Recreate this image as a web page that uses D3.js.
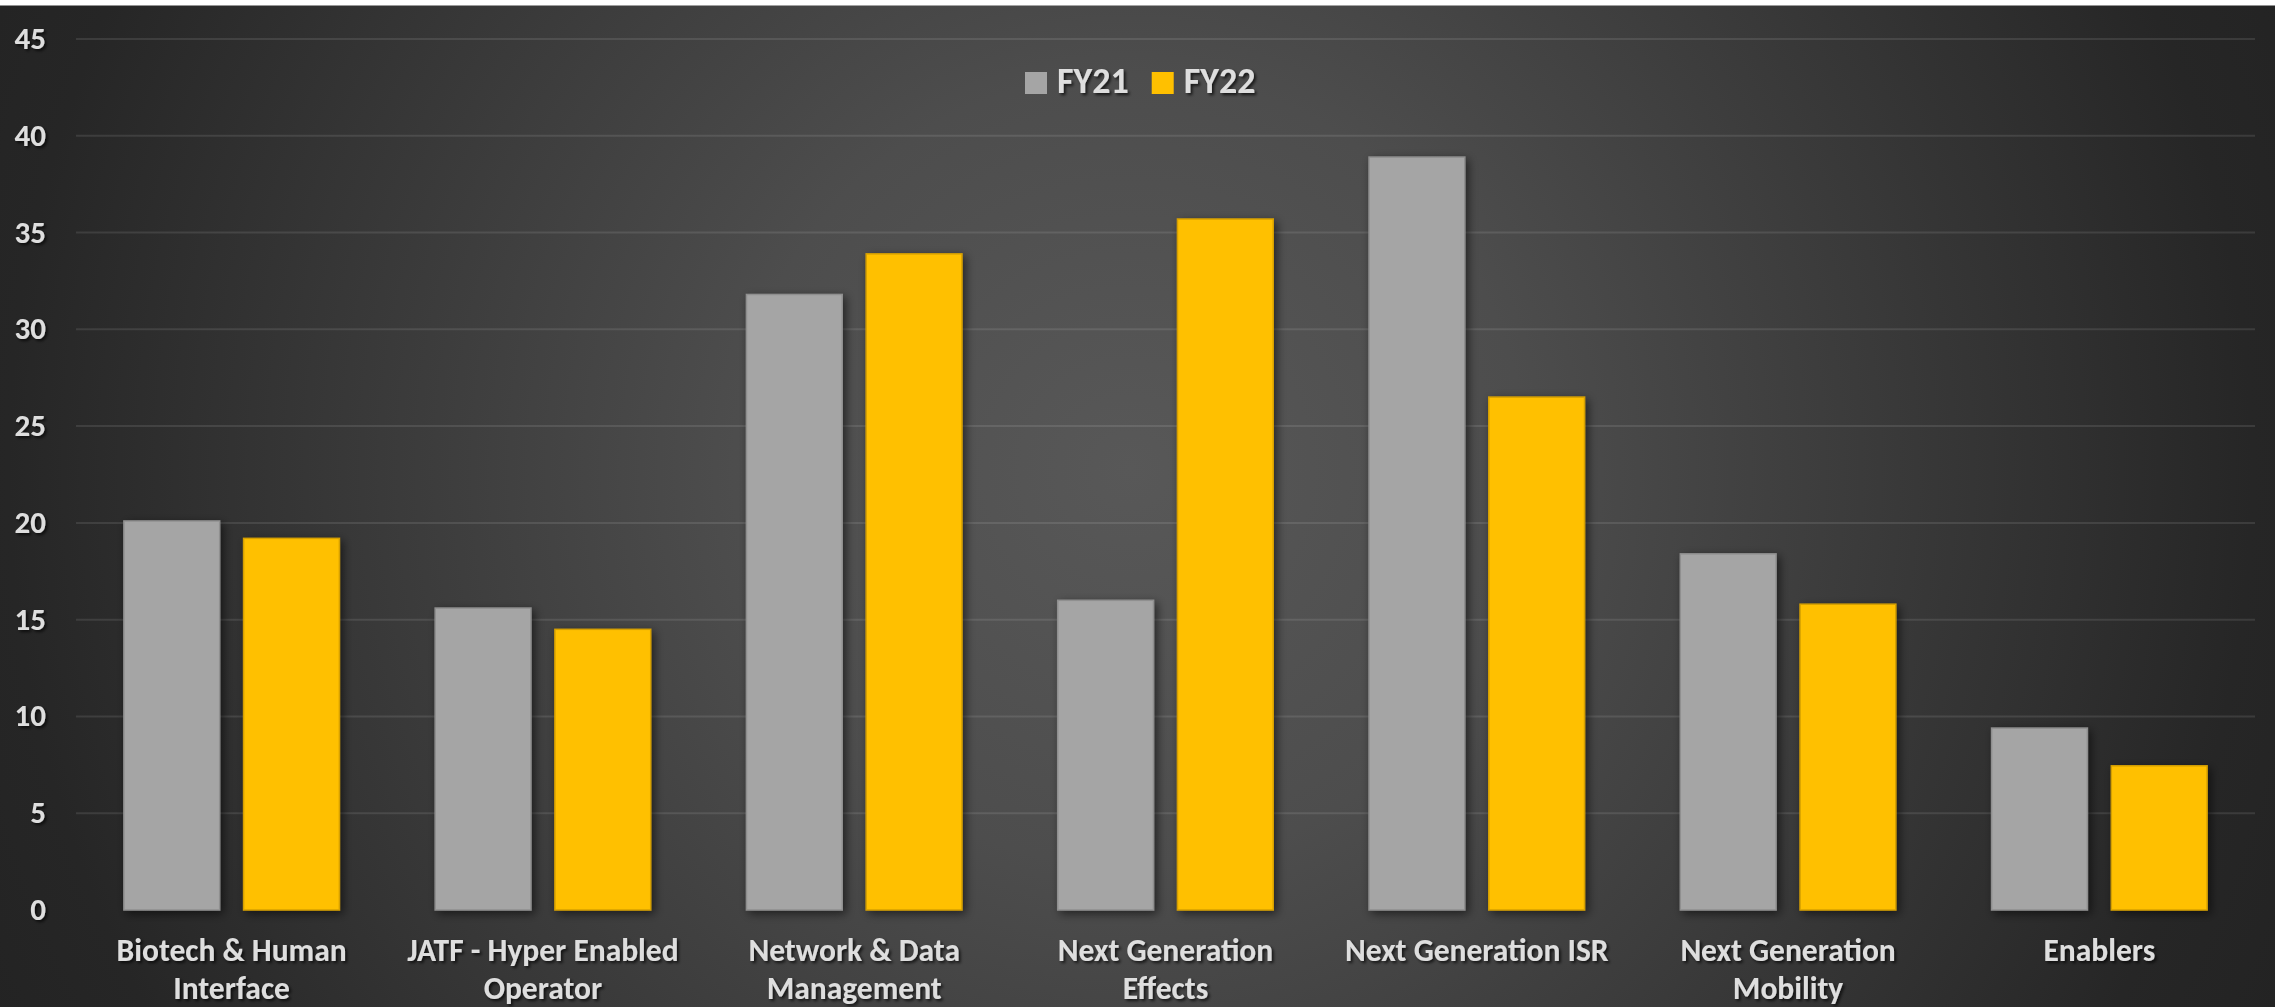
<!DOCTYPE html>
<html lang="en">
<head>
  <meta charset="UTF-8" />
  <title>FY21 vs FY22 by portfolio</title>
  <script src="https://d3js.org/d3.v7.min.js"></script>
  <style>
    body {
      margin: 0;
      background: #fff;
    }
    #chart {
      display: block;
      font-family: Carlito, "Liberation Sans Narrow", "DejaVu Sans Condensed", sans-serif;
      font-weight: bold;
    }
    .tick-label, .cat-label, .legend-label {
      fill: #dedede;
    }
  </style>
</head>
<body>
  <svg id="chart"></svg>

  <script>
    // chart values
    const categories = [
      "Biotech & Human Interface",
      "JATF - Hyper Enabled Operator",
      "Network & Data Management",
      "Next Generation Effects",
      "Next Generation ISR",
      "Next Generation Mobility",
      "Enablers"
    ];
    const seriesNames = ["FY21", "FY22"];
    const fy21 = [20.1, 15.6, 31.8, 16.0, 38.9, 18.4, 9.4];
    const fy22 = [19.2, 14.5, 33.9, 35.7, 26.5, 15.8, 7.45];
    const yTicks = [0, 5, 10, 15, 20, 25, 30, 35, 40, 45];
    const colors = ["#a5a5a5", "#ffc000"];
    const edgeColors = ["#8f8f8f", "#d6a000"];

    const width = 2275;
    const height = 1007;
    const margin = { top: 39, right: 20, bottom: 97, left: 76 };

    const svg = d3.select("#chart")
      .attr("width", width)
      .attr("height", height)
      .attr("viewBox", [0, 0, width, height]);

    const defs = svg.append("defs");

    // background gradient, light in the middle, dark at the edges
    const grad = defs.append("radialGradient")
      .attr("id", "bg")
      .attr("gradientUnits", "userSpaceOnUse")
      .attr("cx", 1130).attr("cy", 470).attr("r", 1320);
    grad.append("stop").attr("offset", 0).attr("stop-color", "#585858");
    grad.append("stop").attr("offset", 0.3).attr("stop-color", "#4d4d4d");
    grad.append("stop").attr("offset", 0.85).attr("stop-color", "#262626");
    grad.append("stop").attr("offset", 1).attr("stop-color", "#222222");

    const textShadow = defs.append("filter").attr("id", "textShadow")
      .attr("x", "-10%").attr("y", "-20%").attr("width", "130%").attr("height", "150%");
    textShadow.append("feDropShadow")
      .attr("dx", 2).attr("dy", 2).attr("stdDeviation", 1.5)
      .attr("flood-color", "#000").attr("flood-opacity", 0.7);

    const barShadow = defs.append("filter").attr("id", "barShadow")
      .attr("x", "-20%").attr("y", "-10%").attr("width", "150%").attr("height", "130%");
    barShadow.append("feDropShadow")
      .attr("dx", 3).attr("dy", 3).attr("stdDeviation", 5)
      .attr("flood-color", "#000").attr("flood-opacity", 0.55);

    svg.append("rect")
      .attr("x", 0).attr("y", 5.5)
      .attr("width", width).attr("height", height - 5.5)
      .attr("fill", "url(#bg)");

    // scales
    const x0 = d3.scaleBand()
      .domain(categories)
      .range([margin.left, width - margin.right]);

    const x1 = d3.scaleBand()
      .domain(seriesNames)
      .range([0, x0.bandwidth()])
      .paddingInner(0.2)
      .paddingOuter(0.4);

    const y = d3.scaleLinear()
      .domain([0, 45])
      .range([height - margin.bottom, margin.top]);

    // gridlines
    svg.append("g")
      .selectAll("line")
      .data(yTicks.filter(d => d > 0))
      .join("line")
      .attr("x1", margin.left)
      .attr("x2", width - margin.right)
      .attr("y1", d => y(d))
      .attr("y2", d => y(d))
      .attr("stroke", "#ffffff")
      .attr("stroke-opacity", 0.1)
      .attr("stroke-width", 2);

    // y labels
    svg.append("g")
      .selectAll("text")
      .data(yTicks)
      .join("text")
      .attr("class", "tick-label")
      .attr("x", 46)
      .attr("y", d => y(d) + 10)
      .attr("text-anchor", "end")
      .attr("font-size", 31)
      .attr("filter", "url(#textShadow)")
      .text(d => d);

    // bars
    const series = [fy21, fy22];
    const groups = svg.append("g")
      .selectAll("g")
      .data(categories)
      .join("g")
      .attr("transform", d => `translate(${x0(d)},0)`);

    groups.selectAll("rect")
      .data((c, i) => seriesNames.map((s, j) => ({ s, j, v: series[j][i] })))
      .join("rect")
      .attr("x", d => x1(d.s))
      .attr("y", d => y(d.v))
      .attr("width", x1.bandwidth())
      .attr("height", d => y(0) - y(d.v))
      .attr("fill", d => colors[d.j])
      .attr("stroke", d => edgeColors[d.j])
      .attr("stroke-width", 1.5)
      .attr("filter", "url(#barShadow)");

    // baseline
    svg.append("line")
      .attr("x1", margin.left)
      .attr("x2", width - margin.right)
      .attr("y1", y(0))
      .attr("y2", y(0))
      .attr("stroke", "#9a9a9a")
      .attr("stroke-width", 2.5)
      .attr("filter", "url(#textShadow)");

    // category labels, wrapped to the band width
    const catText = svg.append("g")
      .selectAll("text")
      .data(categories)
      .join("text")
      .attr("class", "cat-label")
      .attr("x", d => x0(d) + x0.bandwidth() / 2)
      .attr("y", 961)
      .attr("text-anchor", "middle")
      .attr("font-size", 31.5)
      .attr("filter", "url(#textShadow)");

    catText.each(function(d) {
      const text = d3.select(this);
      const words = d.split(" ");
      const maxW = 290;
      let line = [];
      let tspan = text.append("tspan").attr("x", text.attr("x")).attr("dy", 0);
      words.forEach(w => {
        line.push(w);
        tspan.text(line.join(" "));
        if (tspan.node().getComputedTextLength() > maxW && line.length > 1) {
          line.pop();
          tspan.text(line.join(" "));
          line = [w];
          tspan = text.append("tspan")
            .attr("x", text.attr("x"))
            .attr("dy", 38)
            .text(w);
        }
      });
    });

    // legend
    const legend = svg.append("g").attr("transform", "translate(1025,0)");
    let lx = 0;
    seriesNames.forEach((s, j) => {
      legend.append("rect")
        .attr("x", lx).attr("y", 72)
        .attr("width", 22).attr("height", 22)
        .attr("fill", colors[j]);
      const t = legend.append("text")
        .attr("class", "legend-label")
        .attr("x", lx + 32)
        .attr("y", 93)
        .attr("font-size", 36)
        .attr("filter", "url(#textShadow)")
        .text(s);
      lx += 32 + t.node().getComputedTextLength() + 23;
    });
  </script>
</body>
</html>
